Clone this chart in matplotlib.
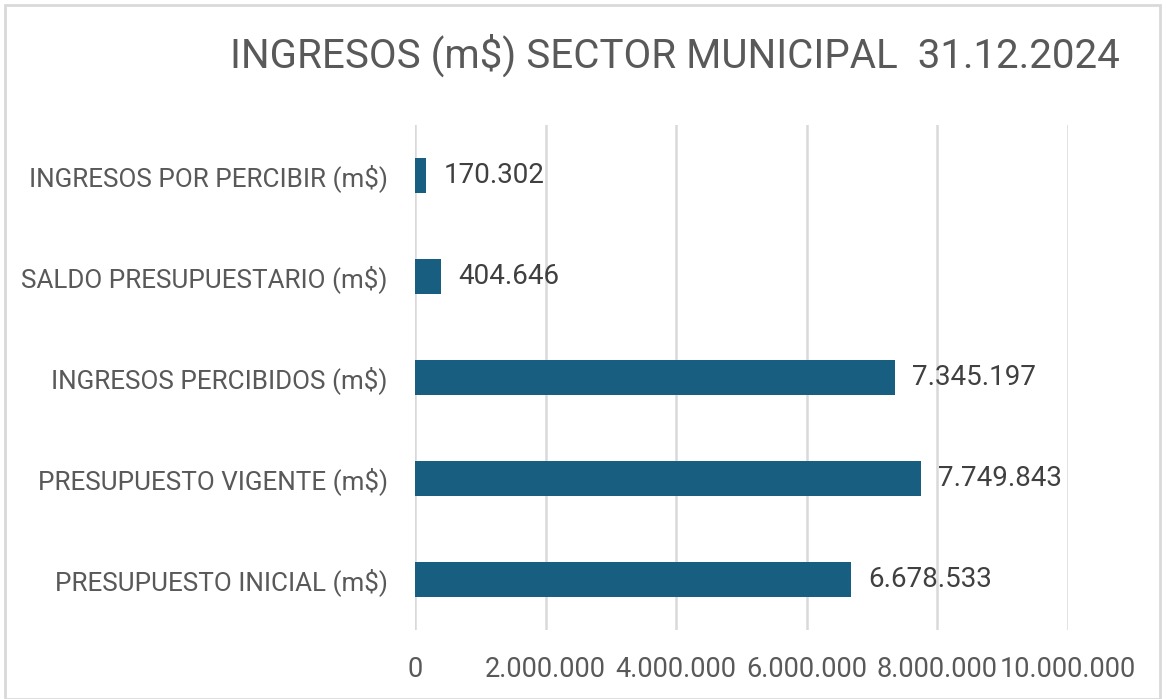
import matplotlib
matplotlib.use("Agg")
import matplotlib.pyplot as plt
from matplotlib.patches import Rectangle
from matplotlib.ticker import FuncFormatter

categories = ["PRESUPUESTO INICIAL (m$)", "PRESUPUESTO VIGENTE (m$)",
              "INGRESOS PERCIBIDOS (m$)", "SALDO PRESUPUESTARIO (m$)",
              "INGRESOS POR PERCIBIR (m$)"]
values = [6678533, 7749843, 7345197, 404646, 170302]
xticks = [0, 2000000, 4000000, 6000000, 8000000, 10000000]
title = "INGRESOS (m$) SECTOR MUNICIPAL  31.12.2024"

plt.rcParams['font.family'] = ['Roboto', 'DejaVu Sans']
txt = '#595959'
bar_color = '#175e80'

def fmt(v):
    return f"{int(v):,}".replace(",", ".")

fig = plt.figure(figsize=(11.66, 6.99), dpi=100)
ax = fig.add_axes([415/1166, 1-630/699, (1068-415)/1166, (630-125)/699])
ys = list(range(len(categories)))
ax.barh(ys, values, height=0.35, color=bar_color, zorder=3)
for y, v in zip(ys, values):
    ax.text(v + 265000, y, fmt(v), va='center', ha='left', fontsize=20, color='#404040')
ax.set_xlim(0, 10000000)
ax.set_ylim(-0.5, 4.5)
ax.set_xticks(xticks)
ax.xaxis.set_major_formatter(FuncFormatter(lambda v, p: fmt(v)))
ax.set_yticks(ys)
ax.set_yticklabels(categories, fontsize=18.7)
ax.tick_params(axis='both', length=0, colors=txt)
ax.tick_params(axis='x', labelsize=19.5, pad=19)
ax.tick_params(axis='y', pad=19.5)
ax.grid(axis='x', color='#d9d9d9', linewidth=1.8, zorder=0)
for s in ax.spines.values():
    s.set_visible(False)
fig.text(675/1166, 1-55/699, title, ha='center', va='center', fontsize=29, color=txt)
fig.patches.append(Rectangle((5/1166, 0), 1155/1166, 1-5/699, transform=fig.transFigure,
                             fill=False, edgecolor='#d9d9d9', linewidth=2))
fig.savefig("out.png", dpi=100)
